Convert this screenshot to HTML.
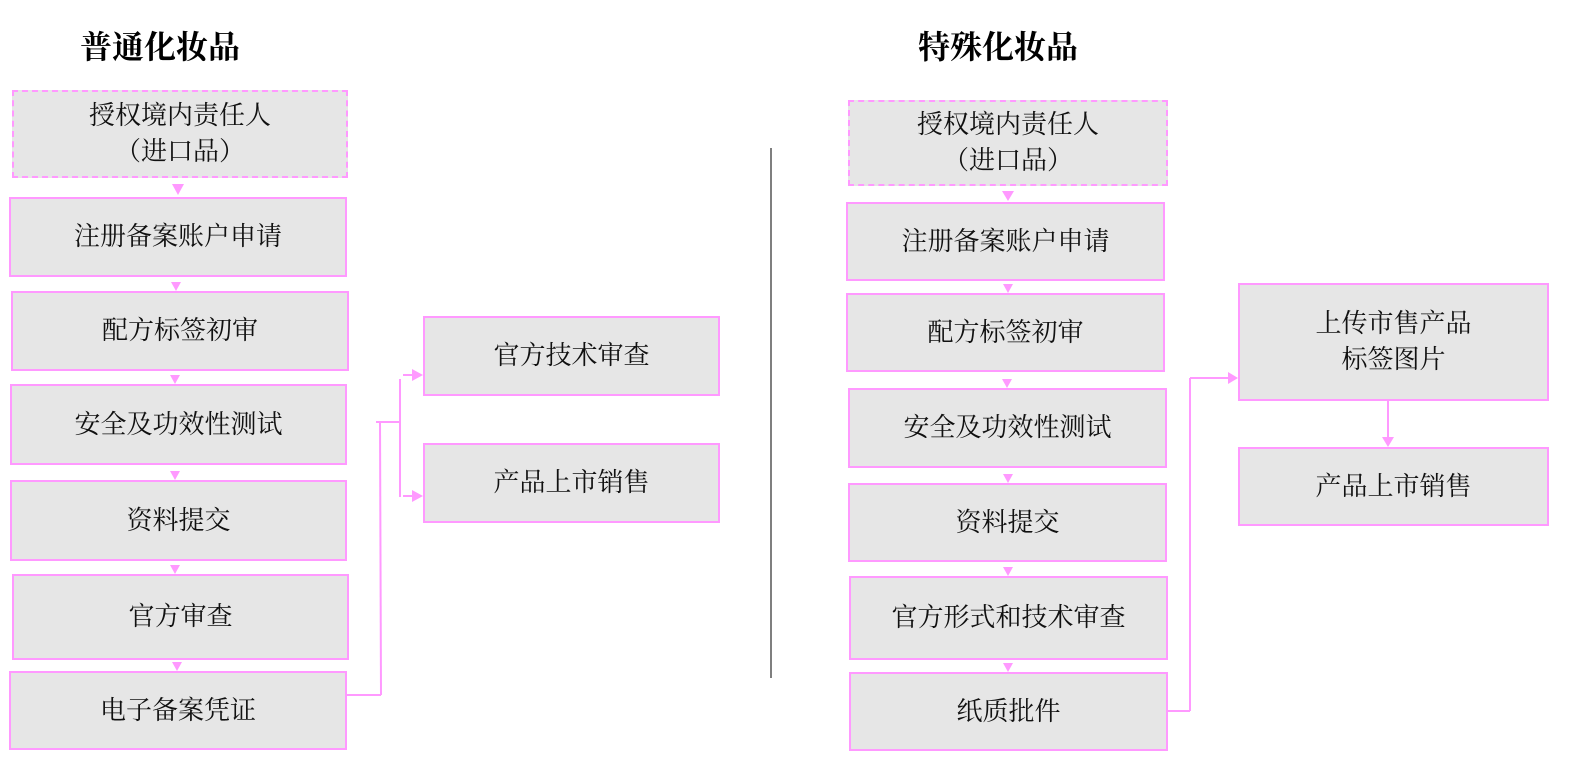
<!DOCTYPE html>
<html><head><meta charset="utf-8"><style>
body{margin:0;width:1577px;height:775px;background:#fff;position:relative;overflow:hidden;font-family:"Liberation Serif","Noto Serif CJK SC",serif;}
.b{position:absolute;box-sizing:border-box;background:#e6e6e6;border:2px solid #ff99ff;display:flex;align-items:center;justify-content:center;text-align:center;font-size:26px;line-height:36px;color:#111;}
.d{border-style:dashed;}
.t{position:absolute;font-size:32px;font-weight:bold;color:#000;}
svg{position:absolute;left:0;top:0}
</style></head><body>
<div class="t" style="left:80px;top:22px">普通化妆品</div>
<div class="t" style="left:918px;top:22px">特殊化妆品</div>

<div class="b d" style="left:12px;top:90px;width:336px;height:88px">授权境内责任人<br>（进口品）</div>
<div class="b" style="left:9px;top:197px;width:338px;height:80px">注册备案账户申请</div>
<div class="b" style="left:11px;top:291px;width:338px;height:80px">配方标签初审</div>
<div class="b" style="left:10px;top:384px;width:337px;height:81px">安全及功效性测试</div>
<div class="b" style="left:10px;top:480px;width:337px;height:81px">资料提交</div>
<div class="b" style="left:12px;top:574px;width:337px;height:86px">官方审查</div>
<div class="b" style="left:9px;top:671px;width:338px;height:79px">电子备案凭证</div>
<div class="b" style="left:423px;top:316px;width:297px;height:80px">官方技术审查</div>
<div class="b" style="left:423px;top:443px;width:297px;height:80px">产品上市销售</div>

<div class="b d" style="left:848px;top:100px;width:320px;height:86px">授权境内责任人<br>（进口品）</div>
<div class="b" style="left:846px;top:202px;width:319px;height:79px">注册备案账户申请</div>
<div class="b" style="left:846px;top:293px;width:319px;height:79px">配方标签初审</div>
<div class="b" style="left:848px;top:388px;width:319px;height:80px">安全及功效性测试</div>
<div class="b" style="left:848px;top:483px;width:319px;height:79px">资料提交</div>
<div class="b" style="left:849px;top:576px;width:319px;height:84px">官方形式和技术审查</div>
<div class="b" style="left:849px;top:672px;width:319px;height:79px">纸质批件</div>
<div class="b" style="left:1238px;top:283px;width:311px;height:118px">上传市售产品<br>标签图片</div>
<div class="b" style="left:1238px;top:447px;width:311px;height:79px">产品上市销售</div>

<svg width="1577" height="775">
<g stroke="#ff99ff" stroke-width="2" fill="none">
<line x1="347" y1="695" x2="381" y2="695"/>
<line x1="381" y1="695" x2="380" y2="422"/>
<line x1="376" y1="422" x2="401" y2="422"/>
<line x1="400" y1="379" x2="400" y2="497"/>
<line x1="403" y1="375" x2="412" y2="375"/>
<line x1="403" y1="496" x2="412" y2="496"/>
<line x1="1168" y1="711" x2="1190" y2="711"/>
<line x1="1190" y1="711" x2="1190" y2="378"/>
<line x1="1190" y1="378" x2="1228" y2="378"/>
<line x1="1388" y1="401" x2="1388" y2="437"/>
</g>
<g fill="#ff99ff">
<polygon points="412,369 423,375 412,381"/>
<polygon points="412,490 423,496 412,502"/>
<polygon points="1228,372 1238,378 1228,384"/>
<polygon points="1382,437 1388,447 1394,437"/>
<polygon points="172,184 178,195 184,184"/>
<polygon points="171,282 176,291 181,282"/>
<polygon points="170,375 175,384 180,375"/>
<polygon points="170,471 175,480 180,471"/>
<polygon points="170,565 175,574 180,565"/>
<polygon points="172,662 177,671 182,662"/>
<polygon points="1002,191 1008,201 1014,191"/>
<polygon points="1003,284 1008,293 1013,284"/>
<polygon points="1002,379 1007,388 1012,379"/>
<polygon points="1003,474 1008,483 1013,474"/>
<polygon points="1003,567 1008,576 1013,567"/>
<polygon points="1003,663 1008,672 1013,663"/>
</g>
<line x1="771" y1="148" x2="771" y2="678" stroke="#555" stroke-width="1.5"/>
</svg>
</body></html>
